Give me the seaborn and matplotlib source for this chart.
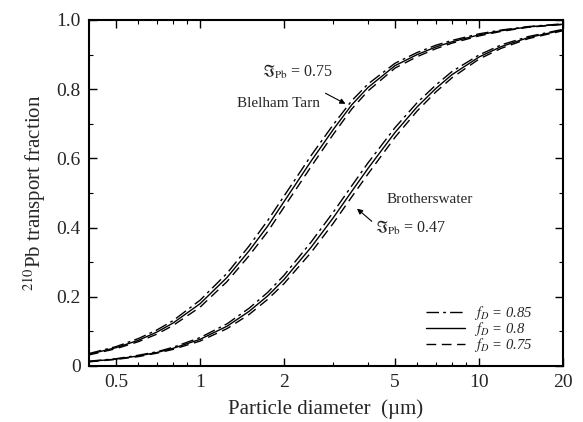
import numpy as np
import pandas as pd
import matplotlib
matplotlib.use("Agg")
import matplotlib.pyplot as plt
import seaborn as sns
from matplotlib.ticker import FixedLocator, NullFormatter, LogLocator
from matplotlib.lines import Line2D

# ---------------- data ----------------
diameter = [0.4, 0.5, 0.6, 0.7, 0.8, 1.0, 1.25, 1.5, 1.75, 2.0, 2.5, 3.0,
            3.5, 4.0, 5.0, 6.0, 7.0, 8.0, 10, 12, 15, 20]

blelham_085 = [0.036, 0.056, 0.079, 0.104, 0.131, 0.190, 0.268, 0.347, 0.421, 0.491, 0.608, 0.697,
               0.767, 0.815, 0.875, 0.906, 0.927, 0.941, 0.960, 0.971, 0.981, 0.989]
blelham_080 = [0.034, 0.053, 0.074, 0.098, 0.124, 0.180, 0.256, 0.333, 0.405, 0.475, 0.592, 0.683,
               0.755, 0.805, 0.868, 0.900, 0.922, 0.937, 0.957, 0.969, 0.980, 0.988]
blelham_075 = [0.032, 0.050, 0.070, 0.092, 0.117, 0.170, 0.244, 0.319, 0.389, 0.459, 0.576, 0.669,
               0.743, 0.795, 0.861, 0.894, 0.917, 0.933, 0.954, 0.967, 0.979, 0.987]

brothers_085 = [0.014, 0.021, 0.031, 0.041, 0.054, 0.082, 0.122, 0.167, 0.213, 0.262, 0.358, 0.444,
                0.521, 0.587, 0.689, 0.761, 0.812, 0.851, 0.899, 0.928, 0.952, 0.973]
brothers_080 = [0.013, 0.020, 0.029, 0.039, 0.051, 0.077, 0.115, 0.158, 0.203, 0.250, 0.343, 0.428,
                0.505, 0.571, 0.675, 0.749, 0.802, 0.842, 0.893, 0.923, 0.949, 0.971]
brothers_075 = [0.012, 0.019, 0.027, 0.037, 0.048, 0.072, 0.108, 0.149, 0.193, 0.238, 0.328, 0.412,
                0.489, 0.555, 0.661, 0.737, 0.792, 0.833, 0.887, 0.918, 0.946, 0.969]

fd_labels = ["0.85", "0.8", "0.75"]
x_ticks = [0.5, 1, 2, 5, 10, 20]
x_ticklabels = ["0.5", "1", "2", "5", "10", "20"]
y_ticks = [0, 0.2, 0.4, 0.6, 0.8, 1.0]
y_ticklabels = ["0", "0.2", "0.4", "0.6", "0.8", "1.0"]

# ---------------- style ----------------
sns.set_style("ticks")
plt.rcParams["font.family"] = ["Liberation Serif", "DejaVu Serif"]
plt.rcParams["mathtext.fontset"] = "stix"

fig = plt.figure(figsize=(5.83, 4.22), dpi=100)
ax = fig.add_axes([89/583, 1 - 366/422, (563-89)/583, (366-20)/422])

styles = {
    "0.85": (0, (9, 3, 2, 3)),
    "0.8": "-",
    "0.75": (0, (7, 4)),
}
series = {
    "0.85": [blelham_085, brothers_085],
    "0.8": [blelham_080, brothers_080],
    "0.75": [blelham_075, brothers_075],
}

for fd in fd_labels:
    for vals in series[fd]:
        df = pd.DataFrame({"d": diameter, "frac": vals})
        sns.lineplot(data=df, x="d", y="frac", ax=ax, color="black", lw=1.0,
                     linestyle=styles[fd], legend=False)

ax.set_xscale("log")
ax.set_xlim(0.4, 20)
ax.set_ylim(0, 1.0)
ax.xaxis.set_major_locator(FixedLocator(x_ticks))
ax.set_xticklabels(x_ticklabels)
ax.xaxis.set_minor_locator(LogLocator(base=10, subs=np.arange(2, 10)))
ax.xaxis.set_minor_formatter(NullFormatter())
ax.set_yticks(y_ticks)
ax.set_yticklabels(y_ticklabels)
ax.yaxis.set_minor_locator(FixedLocator([0.1, 0.3, 0.5, 0.7, 0.9]))

ax.tick_params(which="both", direction="in", top=True, right=True, labelsize=14, color="black")
ax.tick_params(which="major", length=6, width=1.0, pad=6)
ax.tick_params(which="minor", length=3, width=0.8)
for s in ax.spines.values():
    s.set_linewidth(1.5)
    s.set_color("black")

ax.set_xlabel("Particle diameter  (µm)", fontsize=15, labelpad=6)
ax.set_ylabel(r"$^{210}$Pb transport fraction", fontsize=15, labelpad=6)

# annotations
ax.annotate("", xy=(3.39, 0.754), xytext=(2.76, 0.792),
            arrowprops=dict(arrowstyle="-|>", color="black", lw=0.8, mutation_scale=8))
ax.text(1.67, 0.85, r"$\Im_{\mathrm{Pb}}$ = 0.75", fontsize=11.5, va="center", ha="left")
ax.text(1.36, 0.76, "Blelham Tarn", fontsize=11, va="center", ha="left")

ax.annotate("", xy=(3.59, 0.46), xytext=(4.20, 0.413),
            arrowprops=dict(arrowstyle="-|>", color="black", lw=0.8, mutation_scale=8))
ax.text(4.24, 0.40, r"$\Im_{\mathrm{Pb}}$ = 0.47", fontsize=11.5, va="center", ha="left")
ax.text(4.67, 0.48, "Brotherswater", fontsize=11, va="center", ha="left")

# legend
handles = [Line2D([], [], color="black", lw=1.0, linestyle=styles[fd]) for fd in fd_labels]
labels = [rf"$f_D$ = {fd}" for fd in fd_labels]
leg = ax.legend(handles, labels, loc="upper left", bbox_to_anchor=(0.71, 0.18),
                frameon=False, handlelength=2.7, handletextpad=0.6, labelspacing=-0.12,
                borderpad=0, borderaxespad=0,
                prop={"family": "Liberation Serif", "style": "italic", "size": 10.5})

fig.savefig("out.png", dpi=100)
